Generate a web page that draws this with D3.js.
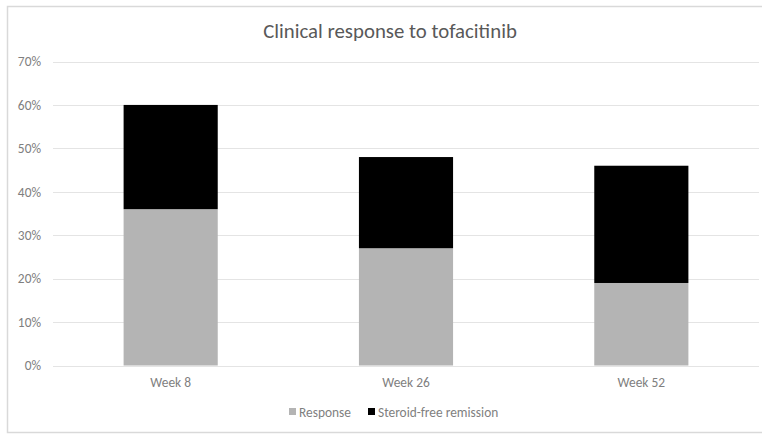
<!DOCTYPE html>
<html>
<head>
<meta charset="utf-8">
<script src="https://cdn.jsdelivr.net/npm/d3@7"></script>
<style>
  html, body { margin: 0; padding: 0; background: #fff; }
  svg { display: block; }
  text { font-family: Calibri, "Liberation Sans", "Open Sans", sans-serif; }
</style>
</head>
<body>
<svg id="chart" width="762" height="435"></svg>
<script>
const categories = ["Week 8", "Week 26", "Week 52"];
const seriesNames = ["Response", "Steroid-free remission"];
const response = [0.36, 0.27, 0.19];
const remission = [0.24, 0.21, 0.27];
const yTicks = [0, 0.1, 0.2, 0.3, 0.4, 0.5, 0.6, 0.7];
const title = "Clinical response to tofacitinib";
const colors = ["#b4b4b4", "#000000"];

const svg = d3.select("#chart");
const FONT = "Calibri, 'Liberation Sans', 'Open Sans', sans-serif";

// outer chart border
svg.append("rect")
  .attr("x", 7.5).attr("y", 6.5)
  .attr("width", 770).attr("height", 426)
  .attr("fill", "#fff").attr("stroke", "#d9d9d9").attr("stroke-width", 1.5);

const x = d3.scaleBand().domain(categories).range([53, 759]).paddingInner(0.6).paddingOuter(0.3);
const y = d3.scaleLinear().domain([0, 0.7]).range([365.5, 61.5]);

// gridlines
svg.append("g").selectAll("line").data(yTicks).join("line")
  .attr("x1", 53).attr("x2", 759)
  .attr("y1", d => Math.round(y(d)) + 0.5).attr("y2", d => Math.round(y(d)) + 0.5)
  .attr("stroke", "#e4e4e4").attr("stroke-width", 1);

// y axis labels
const yAxis = d3.axisLeft(y).tickValues(yTicks).tickFormat(d3.format(".0%")).tickSize(0).tickPadding(0);
const gy = svg.append("g").attr("transform", "translate(41,0)").call(yAxis);
gy.select(".domain").remove();
gy.selectAll("text").attr("fill", "#7f7f7f").style("font-size", "13.4px").style("font-family", FONT);

// stacked data
const data = categories.map((c, i) => ({ cat: c, Response: response[i], "Steroid-free remission": remission[i] }));
const stack = d3.stack().keys(seriesNames)(data);

svg.append("g").selectAll("g").data(stack).join("g")
  .attr("fill", (d, i) => colors[i])
  .selectAll("rect").data(d => d).join("rect")
  .attr("x", d => x(d.data.cat))
  .attr("width", x.bandwidth())
  .attr("y", d => y(d[1]))
  .attr("height", d => y(d[0]) - y(d[1]));

// x axis labels
const xAxis = d3.axisBottom(x).tickSize(0).tickPadding(0);
const gx = svg.append("g").attr("transform", "translate(0,377)").call(xAxis);
gx.select(".domain").remove();
gx.selectAll("text").attr("fill", "#7f7f7f").style("font-size", "13.4px").style("font-family", FONT);

// title
svg.append("text").attr("x", 390).attr("y", 38).attr("text-anchor", "middle")
  .attr("fill", "#595959").style("font-size", "20.8px").text(title);

// legend
const legendX = [289, 368];
const lg = svg.append("g").selectAll("g").data(seriesNames).join("g")
  .attr("transform", (d, i) => `translate(${legendX[i]},408)`);
lg.append("rect").attr("width", 7).attr("height", 7).attr("fill", (d, i) => colors[i]);
lg.append("text").attr("x", 10).attr("y", 8.5).attr("fill", "#7f7f7f")
  .style("font-size", "13.4px").text(d => d);
</script>
</body>
</html>
